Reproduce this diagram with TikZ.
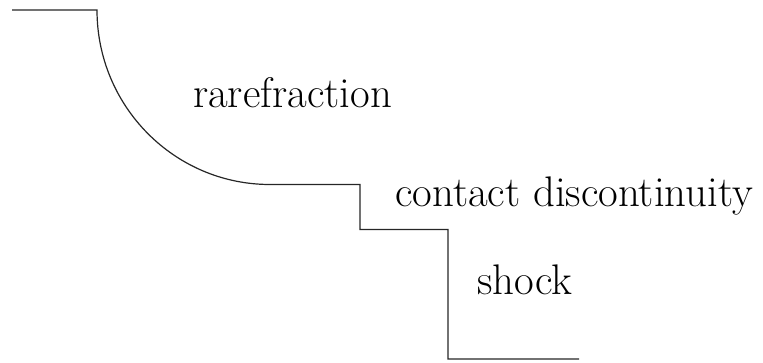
\documentclass[tikz,border=0pt]{standalone}
\usepackage{fontspec}
\begin{document}
\begin{tikzpicture}[x=1pt,y=-1pt,
  profile/.style={line width=1.2pt,line join=miter,black!85},
  wavelabel/.style={anchor=base west,inner sep=0pt,font=\fontsize{42.8}{46}\selectfont}]
  \useasboundingbox (0,0) rectangle (763,362);
  % left state, rarefaction fan, intermediate states, right state
  \coordinate (left) at (12,10);
  \coordinate (headR) at (97,10);
  \coordinate (tailR) at (270,184.5);
  \coordinate (contactTop) at (360,184.5);
  \coordinate (contactBot) at (360,229.5);
  \coordinate (shockTop) at (448,229.5);
  \coordinate (shockBot) at (448,359);
  \coordinate (right) at (579,359);
  \draw[profile] (left) -- (headR)
    .. controls (97,106.4) and (174.5,184.5) .. (tailR)
    -- (contactTop) -- (contactBot) -- (shockTop) -- (shockBot) -- (right);
  \node[wavelabel] (rare) at (193,107) {rarefraction};
  \node[wavelabel] (contact) at (395,206) {contact discontinuity};
  \node[wavelabel] (shock) at (477,294) {shock};
\end{tikzpicture}
\end{document}
